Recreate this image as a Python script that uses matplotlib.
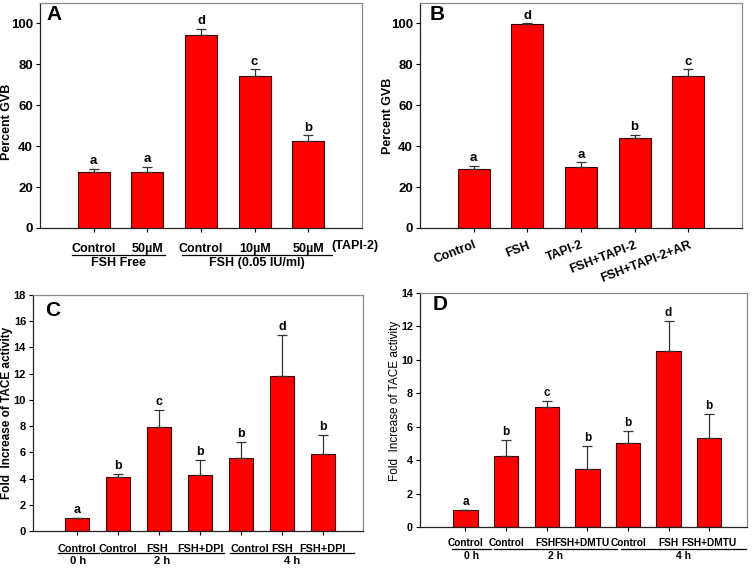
import matplotlib
matplotlib.use("Agg")
import matplotlib.pyplot as plt
import matplotlib.transforms as mtransforms

plt.rcParams['font.family'] = ['Liberation Sans', 'DejaVu Sans']

# ---------------- Data ----------------
a_labels = ["Control", "50µM", "Control", "10µM", "50µM"]
a_values = [27.2, 27.6, 94.5, 74.5, 42.3]
a_errors = [1.8, 2.3, 2.8, 3.0, 3.0]
a_letters = ["a", "a", "d", "c", "b"]
a_groups = ["FSH Free", "FSH (0.05 IU/ml)"]

b_labels = ["Control", "FSH", "TAPI-2", "FSH+TAPI-2", "FSH+TAPI-2+AR"]
b_values = [28.8, 99.7, 30.0, 44.0, 74.5]
b_errors = [1.7, 0.3, 2.2, 1.5, 3.0]
b_letters = ["a", "d", "a", "b", "c"]

c_labels = ["Control", "Control", "FSH", "FSH+DPI", "Control", "FSH", "FSH+DPI"]
c_values = [1.0, 4.1, 7.95, 4.3, 5.6, 11.8, 5.85]
c_errors = [0.0, 0.25, 1.25, 1.15, 1.2, 3.15, 1.45]
c_letters = ["a", "b", "c", "b", "b", "d", "b"]

d_labels = ["Control", "Control", "FSH", "FSH+DMTU", "Control", "FSH", "FSH+DMTU"]
d_values = [1.0, 4.25, 7.15, 3.5, 5.0, 10.55, 5.3]
d_errors = [0.0, 0.95, 0.4, 1.35, 0.75, 1.8, 1.45]
d_letters = ["a", "b", "c", "b", "b", "d", "b"]

time_groups = ["0 h", "2 h", "4 h"]

RED = "#ff0000"

fig = plt.figure(figsize=(7.53, 5.70), dpi=100)

def style_axes(ax, ymax, ticks, yfs):
    for s in ["left", "bottom"]:
        ax.spines[s].set_color("#222222")
        ax.spines[s].set_linewidth(0.9)
    for s in ["top", "right"]:
        ax.spines[s].set_color("#8a8a8a")
        ax.spines[s].set_linewidth(0.9)
    ax.set_ylim(0, ymax)
    ax.set_yticks(ticks)
    ax.tick_params(axis="y", direction="out", length=3, width=0.8, labelsize=yfs, pad=2)
    for t in ax.get_yticklabels():
        t.set_fontweight("bold")

def draw_bars(ax, values, errors, letters, letter_fs, offset):
    x = list(range(1, len(values) + 1))
    ax.bar(x, values, width=0.6, color=RED, edgecolor="#3a0000", linewidth=0.8, zorder=2)
    ax.errorbar(x, values, yerr=[[0] * len(errors), errors], fmt="none",
                ecolor="#333333", elinewidth=0.9, capsize=3.5, capthick=0.9, zorder=3)
    for xi, v, e, l in zip(x, values, errors, letters):
        ax.text(xi, v + e + offset, l, ha="center", va="bottom",
                fontsize=letter_fs, fontweight="bold")
    return x

def group_line(ax, x0, x1, y, label, ylab, fs):
    tr = mtransforms.blended_transform_factory(ax.transData, ax.transAxes)
    ax.plot([x0, x1], [y, y], transform=tr, color="black", lw=0.9, clip_on=False)
    ax.text((x0 + x1) / 2, ylab, label, transform=tr, ha="center", va="center",
            fontsize=fs, fontweight="bold")

def shift_labels(ax, shifts_px):
    for t, dx in zip(ax.get_xticklabels(), shifts_px):
        if dx:
            t.set_transform(t.get_transform() +
                            mtransforms.ScaledTranslation(dx / 100, 0, fig.dpi_scale_trans))

# ---------------- Panel A ----------------
axA = fig.add_axes([40 / 753, 1 - 228 / 570, 322 / 753, 225 / 570])
style_axes(axA, 110, [0, 20, 40, 60, 80, 100], 9.5)
xA = draw_bars(axA, a_values, a_errors, a_letters, 9.5, 0.8)
axA.set_xlim(0, 6)
axA.set_xticks(xA)
axA.set_xticklabels(a_labels, fontsize=9, fontweight="bold")
axA.tick_params(axis="x", direction="out", length=3, width=0.8, pad=8)
trA = mtransforms.blended_transform_factory(axA.transData, axA.transAxes)
axA.text(5.87, -0.082, "(TAPI-2)", transform=trA, ha="center", va="center",
         fontsize=9, fontweight="bold")
group_line(axA, 0.6, 2.33, -0.118, a_groups[0], -0.157, 9)
group_line(axA, 2.64, 5.44, -0.118, a_groups[1], -0.157, 9)
axA.set_ylabel("Percent GVB", fontsize=9, fontweight="bold")
axA.yaxis.set_label_coords(-0.085, 0.47)
axA.text(0.02, 0.947, "A", transform=axA.transAxes, fontsize=15, fontweight="bold",
         ha="left", va="center")

# ---------------- Panel B ----------------
axB = fig.add_axes([420 / 753, 1 - 228 / 570, 322 / 753, 225 / 570])
style_axes(axB, 110, [0, 20, 40, 60, 80, 100], 9.5)
xB = draw_bars(axB, b_values, b_errors, b_letters, 9.5, 0.8)
axB.set_xlim(0, 6)
axB.set_xticks(xB)
axB.set_xticklabels(b_labels, fontsize=9, fontweight="bold", rotation=21,
                    ha="right", va="top", rotation_mode="anchor")
axB.tick_params(axis="x", direction="out", length=3, width=0.8, pad=5)
axB.set_ylabel("Percent GVB", fontsize=9, fontweight="bold")
axB.yaxis.set_label_coords(-0.08, 0.5)
axB.text(0.03, 0.947, "B", transform=axB.transAxes, fontsize=15, fontweight="bold",
         ha="left", va="center")

# ---------------- Panel C ----------------
axC = fig.add_axes([33 / 753, 1 - 531 / 570, 330 / 753, 236 / 570])
style_axes(axC, 18, list(range(0, 19, 2)), 8)
xC = draw_bars(axC, c_values, c_errors, c_letters, 9, 0.15)
axC.set_xlim(-0.07, 7.98)
axC.set_xticks(xC)
axC.set_xticklabels(c_labels, fontsize=7.8, fontweight="bold")
axC.tick_params(axis="x", direction="out", length=3, width=0.8, pad=6)
shift_labels(axC, [0, 0, -2, 1, 9, 0, 0])
group_line(axC, 0.53, 1.55, -0.093, time_groups[0], -0.127, 8)
group_line(axC, 1.58, 4.6, -0.093, time_groups[1], -0.127, 8)
group_line(axC, 4.73, 7.76, -0.093, time_groups[2], -0.127, 8)
axC.set_ylabel("Fold  Increase of TACE activity", fontsize=8.5, fontweight="bold")
axC.yaxis.set_label_coords(-0.062, 0.5)
axC.text(0.036, 0.936, "C", transform=axC.transAxes, fontsize=15, fontweight="bold",
         ha="left", va="center")

# ---------------- Panel D ----------------
axD = fig.add_axes([420 / 753, 1 - 527 / 570, 327 / 753, 234 / 570])
style_axes(axD, 14, list(range(0, 15, 2)), 7.8)
xD = draw_bars(axD, d_values, d_errors, d_letters, 8.5, 0.12)
axD.set_xlim(-0.12, 7.93)
axD.set_xticks(xD)
axD.set_xticklabels(d_labels, fontsize=7.3, fontweight="bold")
axD.tick_params(axis="x", direction="out", length=3, width=0.8, pad=5)
shift_labels(axD, [0, 0, -1, -5, 1, 0, 0])
group_line(axD, 0.66, 1.64, -0.094, time_groups[0], -0.122, 7.5)
group_line(axD, 1.71, 4.72, -0.094, time_groups[1], -0.122, 7.5)
group_line(axD, 4.84, 7.9, -0.094, time_groups[2], -0.122, 7.5)
axD.set_ylabel("Fold  Increase of TACE activity", fontsize=8.5)
axD.yaxis.set_label_coords(-0.058, 0.54)
axD.text(0.04, 0.95, "D", transform=axD.transAxes, fontsize=15, fontweight="bold",
         ha="left", va="center")

fig.savefig("out.png", dpi=100)
